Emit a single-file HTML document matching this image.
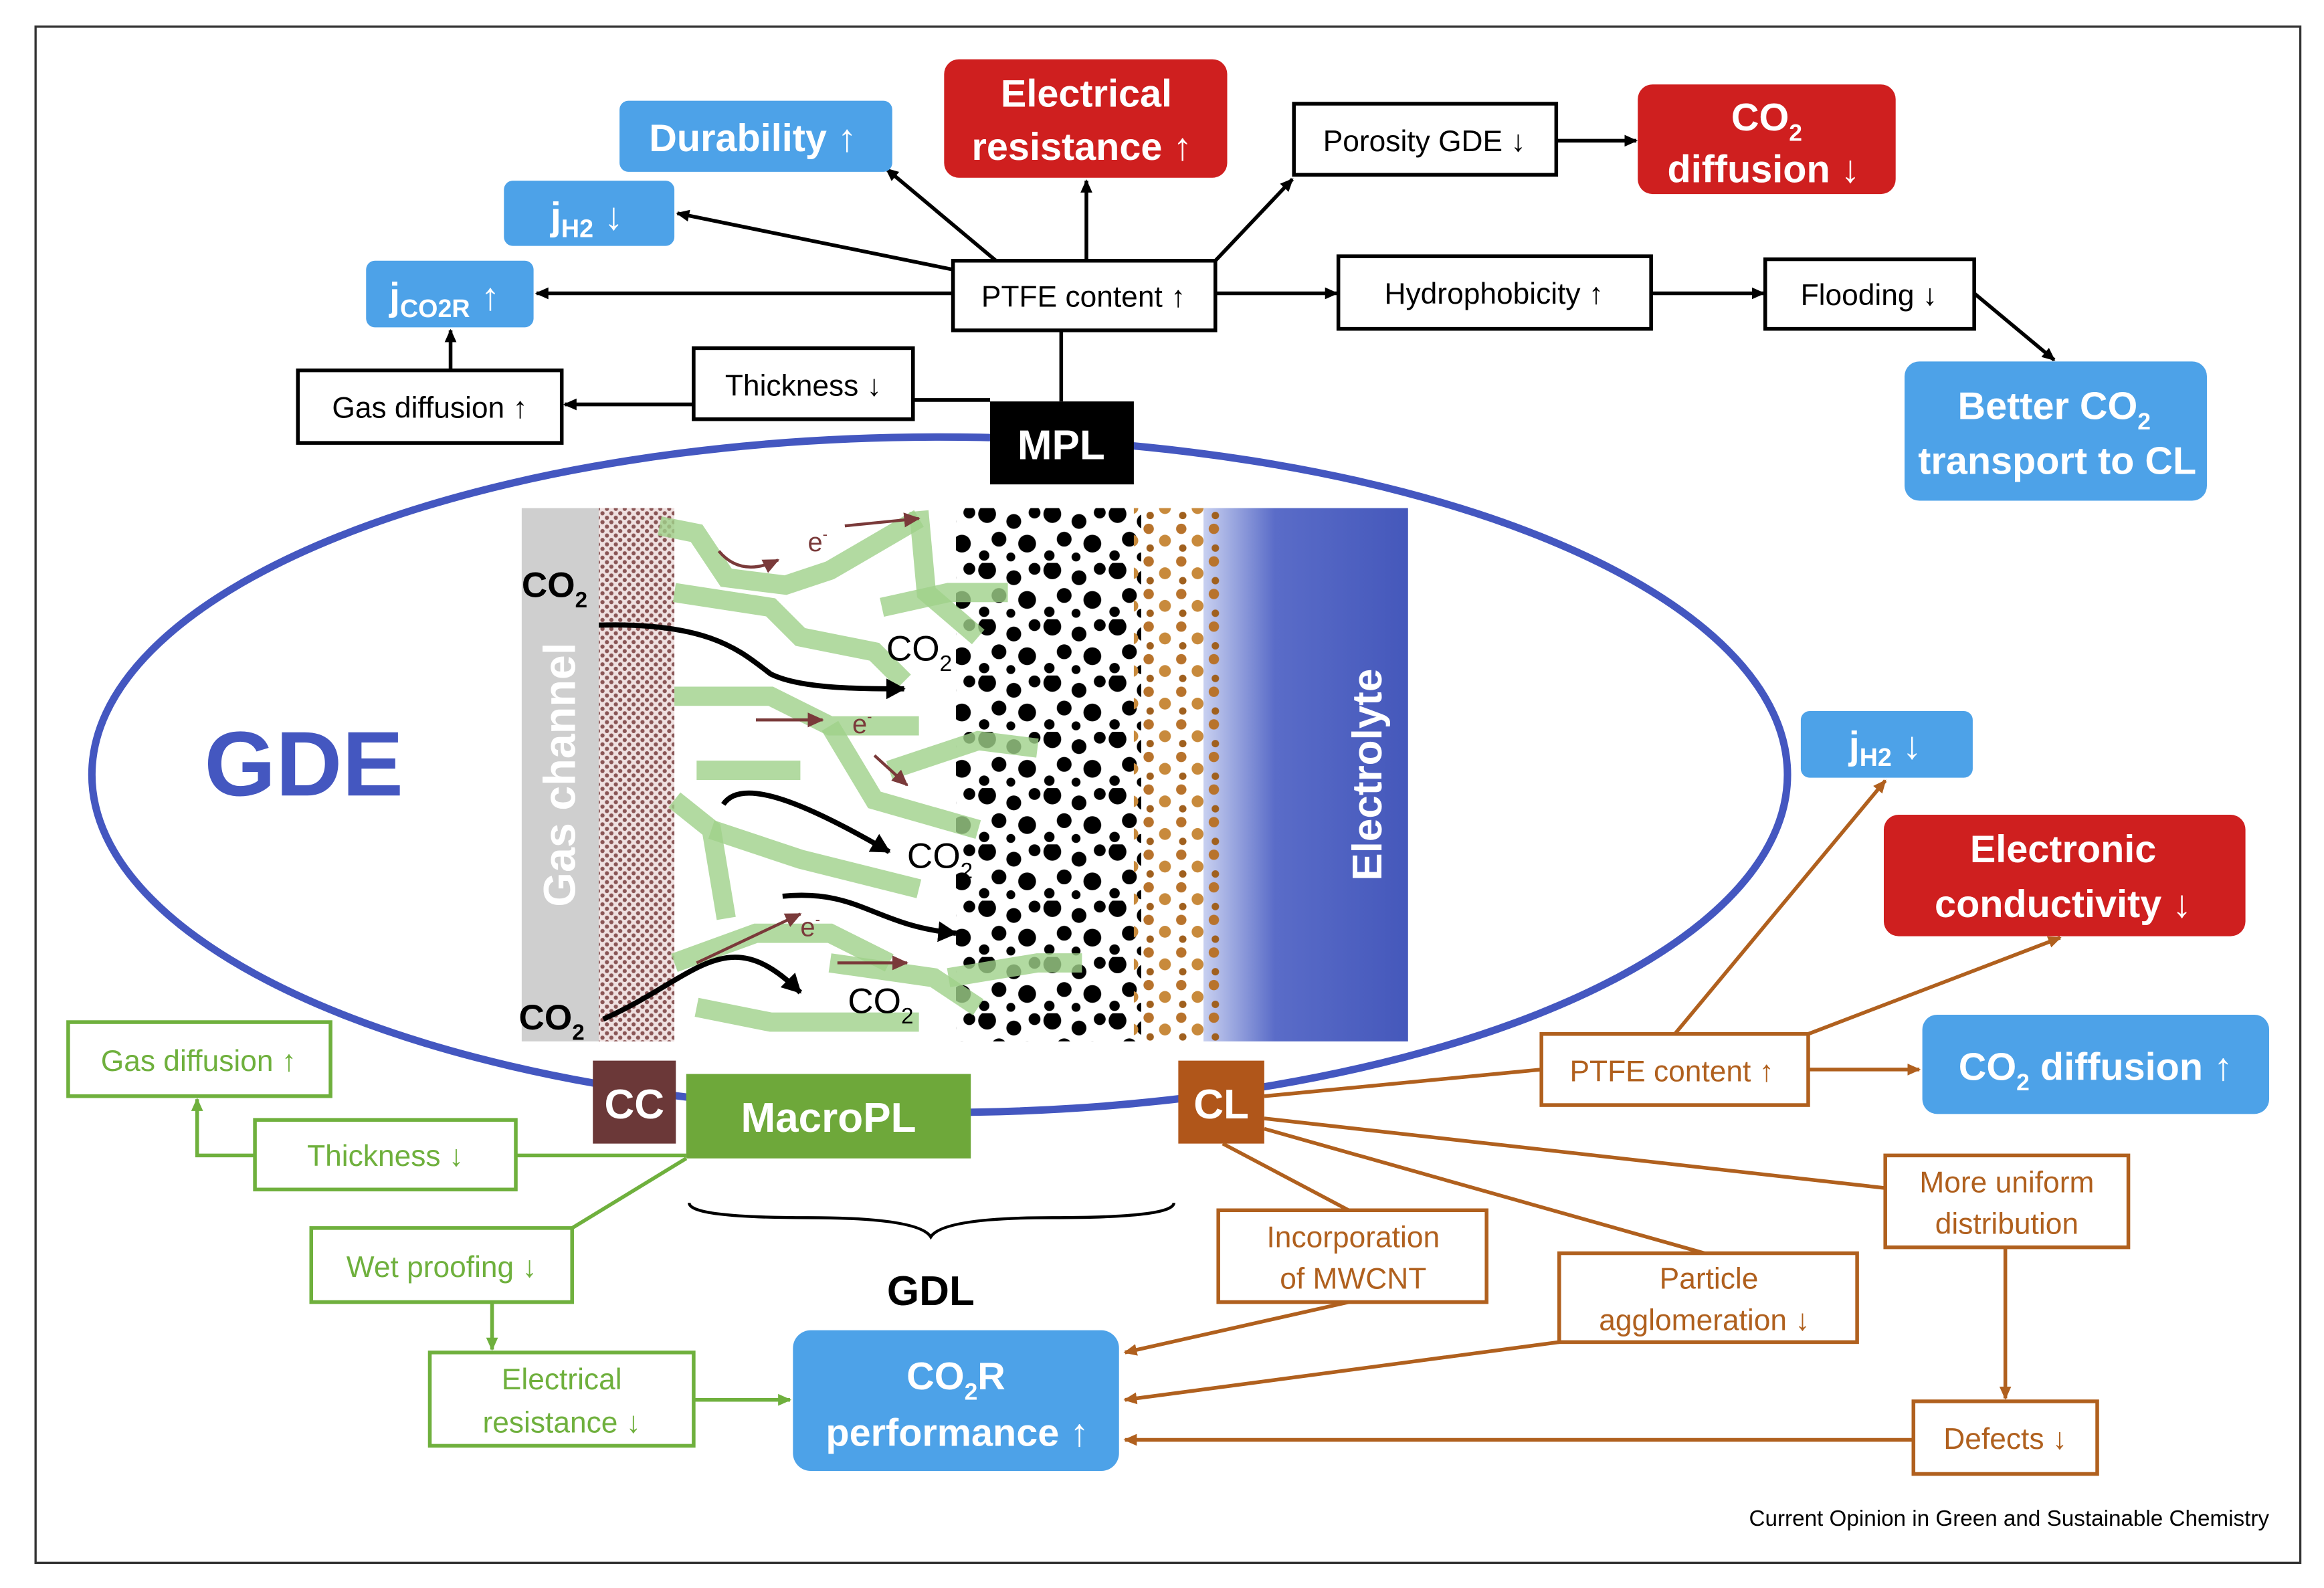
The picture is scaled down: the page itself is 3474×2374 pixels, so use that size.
<!DOCTYPE html>
<html><head><meta charset="utf-8"><style>
html,body{margin:0;padding:0;background:#fff;}
svg{display:block;}
text{font-family:"Liberation Sans Narrow","Liberation Sans",sans-serif;}
</style></head><body>
<svg width="3474" height="2374" viewBox="0 0 1568 1072" preserveAspectRatio="none" xmlns="http://www.w3.org/2000/svg">
<defs>
<marker id="ab" markerWidth="10" markerHeight="10" refX="8" refY="5" orient="auto" markerUnits="userSpaceOnUse"><path d="M0,1 L9,5 L0,9 z" fill="#000"/></marker>
<marker id="ao" markerWidth="10" markerHeight="10" refX="8" refY="5" orient="auto" markerUnits="userSpaceOnUse"><path d="M0,1 L9,5 L0,9 z" fill="#b0601e"/></marker>
<marker id="ag" markerWidth="10" markerHeight="10" refX="8" refY="5" orient="auto" markerUnits="userSpaceOnUse"><path d="M0,1 L9,5 L0,9 z" fill="#6fb03d"/></marker>
<marker id="ak" markerWidth="14" markerHeight="14" refX="12" refY="7" orient="auto" markerUnits="userSpaceOnUse"><path d="M0,0 L13,7 L0,14 z" fill="#000"/></marker>
<marker id="ar" markerWidth="12" markerHeight="12" refX="10" refY="6" orient="auto" markerUnits="userSpaceOnUse"><path d="M0,1 L11,6 L0,11 z" fill="#7a3a3a"/></marker>
<pattern id="hatch" width="6" height="6" patternUnits="userSpaceOnUse"><rect width="6" height="6" fill="#efe0e0"/><circle cx="1.5" cy="1.5" r="1.4" fill="#8a5656"/><circle cx="4.5" cy="4.5" r="1.4" fill="#8a5656"/></pattern>
<pattern id="dots" width="44" height="38" patternUnits="userSpaceOnUse">
<circle cx="6" cy="5" r="6" fill="#000"/><circle cx="24" cy="10" r="5" fill="#000"/><circle cx="38" cy="4" r="4" fill="#000"/>
<circle cx="14" cy="22" r="5" fill="#000"/><circle cx="33" cy="25" r="6" fill="#000"/><circle cx="4" cy="33" r="3.5" fill="#000"/><circle cx="22" cy="34" r="3" fill="#000"/></pattern>
<pattern id="bdots" width="22" height="22" patternUnits="userSpaceOnUse">
<circle cx="5" cy="5" r="3.5" fill="#b8732c"/><circle cx="16" cy="13" r="4" fill="#c88a3c"/><circle cx="6" cy="18" r="2.5" fill="#a0601e"/></pattern>
<linearGradient id="el" x1="0" x2="1"><stop offset="0" stop-color="#c8d0f0"/><stop offset="0.35" stop-color="#5a6cc8"/><stop offset="1" stop-color="#4558bb"/></linearGradient>
</defs>
<rect x="0" y="0" width="1568" height="1072" fill="#fff"/>
<rect x="24" y="18" width="1528" height="1037" fill="none" stroke="#333" stroke-width="1.5"/>

<!-- ellipse -->
<ellipse cx="634" cy="523" rx="572" ry="228" fill="none" stroke="#4457c0" stroke-width="5"/>
<text x="205" y="537" font-size="62" font-weight="bold" fill="#4457c0" text-anchor="middle" style="font-family:'Liberation Sans',sans-serif">GDE</text>

<!-- picture -->
<rect x="352" y="343" width="52" height="360" fill="#cfcfcf"/>
<rect x="404" y="343" width="51" height="360" fill="url(#hatch)"/>
<text transform="translate(388,523) rotate(-90)" font-size="30" font-weight="bold" fill="#fff" text-anchor="middle" style="font-family:'Liberation Sans',sans-serif">Gas channel</text>
<rect x="812" y="343" width="138" height="360" fill="url(#el)"/>
<text transform="translate(932,523) rotate(-90)" font-size="28" font-weight="bold" fill="#fff" text-anchor="middle" style="font-family:'Liberation Sans',sans-serif">Electrolyte</text>
<rect x="645" y="343" width="125" height="360" fill="url(#dots)"/>
<rect x="765" y="343" width="60" height="360" fill="url(#bdots)"/>
<g fill="none" stroke="#9fd18a" stroke-width="13" stroke-opacity="0.8" stroke-linecap="butt">
<path d="M445,355 L470,360 L490,390 L530,395 L560,385 L620,350"/>
<path d="M620,345 L625,400 L660,430"/>
<path d="M455,400 L520,410 L540,430 L590,440 L610,460"/>
<path d="M595,410 L640,400 L680,400"/>
<path d="M455,470 L520,470 L560,490 L620,490"/>
<path d="M560,490 L590,540 L660,560"/>
<path d="M470,520 L540,520"/>
<path d="M600,520 L660,500 L700,505"/>
<path d="M455,540 L480,560 L490,620"/>
<path d="M480,560 L540,580 L620,600"/>
<path d="M455,650 L510,630 L560,630 L600,650"/>
<path d="M560,650 L630,660 L660,680"/>
<path d="M640,660 L700,650 L730,650"/>
<path d="M470,680 L520,690 L620,690"/>
</g>
<g fill="none" stroke="#7a3a3a" stroke-width="2">
<path d="M485,372 Q500,390 525,378" marker-end="url(#ar)"/>
<path d="M570,355 L620,350" marker-end="url(#ar)"/>
<path d="M510,486 L555,486" marker-end="url(#ar)"/>
<path d="M590,510 L612,530" marker-end="url(#ar)"/>
<path d="M470,650 L540,617" marker-end="url(#ar)"/>
<path d="M565,650 L612,650" marker-end="url(#ar)"/>
</g>
<g font-size="18" fill="#7a3a3a"><text x="545" y="372">e<tspan font-size="10" dy="-8">-</tspan></text><text x="575" y="495">e<tspan font-size="10" dy="-8">-</tspan></text><text x="540" y="632">e<tspan font-size="10" dy="-8">-</tspan></text></g>
<g fill="none" stroke="#000" stroke-width="3.5">
<path d="M404,422 C480,420 500,440 520,455 C540,465 580,465 610,465" marker-end="url(#ak)"/>
<path d="M488,543 C500,525 540,540 600,575" marker-end="url(#ak)"/>
<path d="M528,605 C580,600 590,625 645,630" marker-end="url(#ak)"/>
<path d="M407,688 C470,660 490,620 540,670" marker-end="url(#ak)"/>
</g>
<g font-size="24" fill="#000" font-weight="bold">
<text x="352" y="403">CO<tspan font-size="15" dy="7">2</tspan></text>
<text x="598" y="446" font-weight="normal">CO<tspan font-size="15" dy="7">2</tspan></text>
<text x="612" y="586" font-weight="normal">CO<tspan font-size="15" dy="7">2</tspan></text>
<text x="572" y="684" font-weight="normal">CO<tspan font-size="15" dy="7">2</tspan></text>
<text x="350" y="695">CO<tspan font-size="15" dy="7">2</tspan></text>
</g>

<!-- top black connectors -->
<g stroke="#000" stroke-width="2.5" fill="none">
<line x1="672" y1="176" x2="598" y2="114" marker-end="url(#ab)"/>
<line x1="643" y1="182" x2="457" y2="144" marker-end="url(#ab)"/>
<line x1="643" y1="198" x2="362" y2="198" marker-end="url(#ab)"/>
<line x1="733" y1="176" x2="733" y2="122" marker-end="url(#ab)"/>
<line x1="820" y1="176" x2="872" y2="121" marker-end="url(#ab)"/>
<line x1="1050" y1="95" x2="1104" y2="95" marker-end="url(#ab)"/>
<line x1="820" y1="198" x2="902" y2="198" marker-end="url(#ab)"/>
<line x1="1114" y1="198" x2="1190" y2="198" marker-end="url(#ab)"/>
<line x1="1332" y1="198" x2="1386" y2="243" marker-end="url(#ab)"/>
<line x1="716" y1="271" x2="716" y2="223"/>
<line x1="668" y1="270" x2="616" y2="270"/>
<line x1="468" y1="273" x2="381" y2="273" marker-end="url(#ab)"/>
<line x1="304" y1="250" x2="304" y2="223" marker-end="url(#ab)"/>
</g>

<!-- top boxes -->
<g font-size="26" font-weight="bold" fill="#fff" text-anchor="middle">
<rect x="418" y="68" width="184" height="48" rx="6" fill="#4da2e8"/><text x="508" y="102">Durability ↑</text>
<rect x="637" y="40" width="191" height="80" rx="10" fill="#cf1f1f"/><text x="733" y="72">Electrical</text><text x="730" y="108">resistance ↑</text>
<rect x="1105" y="57" width="174" height="74" rx="10" fill="#cf1f1f"/><text x="1192" y="88">CO<tspan font-size="16" dy="7">2</tspan></text><text x="1190" y="123">diffusion ↓</text>
<rect x="340" y="122" width="115" height="44" rx="6" fill="#4da2e8"/><text x="396" y="155">j<tspan font-size="17" dy="5">H2</tspan><tspan dy="-5"> ↓</tspan></text>
<rect x="247" y="176" width="113" height="45" rx="6" fill="#4da2e8"/><text x="300" y="209">j<tspan font-size="17" dy="5">CO2R</tspan><tspan dy="-5"> ↑</tspan></text>
<rect x="1285" y="244" width="204" height="94" rx="10" fill="#4da2e8"/><text x="1386" y="283">Better CO<tspan font-size="16" dy="7">2</tspan></text><text x="1388" y="320">transport to CL</text>
</g>
<g font-size="20" fill="#000" text-anchor="middle" stroke-width="2.5">
<rect x="873" y="70" width="177" height="48" fill="#fff" stroke="#000"/><text x="961" y="102">Porosity GDE ↓</text>
<rect x="643" y="176" width="177" height="47" fill="#fff" stroke="#000"/><text x="731" y="207">PTFE content ↑</text>
<rect x="903" y="173" width="211" height="49" fill="#fff" stroke="#000"/><text x="1008" y="205">Hydrophobicity ↑</text>
<rect x="1191" y="175" width="141" height="47" fill="#fff" stroke="#000"/><text x="1261" y="206">Flooding ↓</text>
<rect x="201" y="250" width="178" height="49" fill="#fff" stroke="#000"/><text x="290" y="282">Gas diffusion ↑</text>
<rect x="468" y="235" width="148" height="48" fill="#fff" stroke="#000"/><text x="542" y="267">Thickness ↓</text>
</g>
<rect x="668" y="271" width="97" height="56" fill="#000"/>
<text x="716" y="310" font-size="28" font-weight="bold" fill="#fff" text-anchor="middle">MPL</text>

<!-- bottom layer labels -->
<rect x="400" y="716" width="56" height="56" fill="#6b3838"/><text x="428" y="755" font-size="28" font-weight="bold" fill="#fff" text-anchor="middle">CC</text>
<rect x="463" y="725" width="192" height="57" fill="#6ea83a"/><text x="559" y="764" font-size="28" font-weight="bold" fill="#fff" text-anchor="middle">MacroPL</text>
<rect x="795" y="716" width="58" height="56" fill="#b0561a"/><text x="824" y="755" font-size="28" font-weight="bold" fill="#fff" text-anchor="middle">CL</text>
<path d="M465,812 Q465,822 545,822 Q620,822 628,835 Q636,822 710,822 Q792,822 792,812" fill="none" stroke="#000" stroke-width="2"/>
<text x="628" y="881" font-size="28" font-weight="bold" fill="#000" text-anchor="middle">GDL</text>

<!-- green -->
<g stroke="#6fb03d" stroke-width="2.5" fill="none">
<line x1="463" y1="780" x2="348" y2="780"/>
<polyline points="172,780 133,780 133,742" marker-end="url(#ag)"/>
<line x1="463" y1="782" x2="386" y2="829"/>
<line x1="332" y1="879" x2="332" y2="911" marker-end="url(#ag)"/>
<line x1="468" y1="945" x2="533" y2="945" marker-end="url(#ag)"/>
</g>
<g font-size="20" fill="#6fb03d" text-anchor="middle" stroke-width="2.5">
<rect x="46" y="690" width="177" height="50" fill="#fff" stroke="#6fb03d"/><text x="134" y="723">Gas diffusion ↑</text>
<rect x="172" y="756" width="176" height="47" fill="#fff" stroke="#6fb03d"/><text x="260" y="787">Thickness ↓</text>
<rect x="210" y="829" width="176" height="50" fill="#fff" stroke="#6fb03d"/><text x="298" y="862">Wet proofing ↓</text>
<rect x="290" y="913" width="178" height="63" fill="#fff" stroke="#6fb03d"/><text x="379" y="938">Electrical</text><text x="379" y="967">resistance ↓</text>
</g>

<!-- orange -->
<g stroke="#b0601e" stroke-width="2.5" fill="none">
<line x1="853" y1="740" x2="1040" y2="722"/>
<line x1="1130" y1="698" x2="1272" y2="527" marker-end="url(#ao)"/>
<line x1="1220" y1="698" x2="1390" y2="633" marker-end="url(#ao)"/>
<line x1="1220" y1="722" x2="1295" y2="722" marker-end="url(#ao)"/>
<line x1="853" y1="755" x2="1272" y2="802"/>
<line x1="853" y1="762" x2="1150" y2="846"/>
<line x1="825" y1="772" x2="910" y2="817"/>
<line x1="910" y1="879" x2="759" y2="913" marker-end="url(#ao)"/>
<line x1="1052" y1="906" x2="759" y2="945" marker-end="url(#ao)"/>
<line x1="1353" y1="842" x2="1353" y2="944" marker-end="url(#ao)"/>
<line x1="1291" y1="972" x2="759" y2="972" marker-end="url(#ao)"/>
</g>
<g font-size="20" fill="#b0601e" text-anchor="middle" stroke-width="2.5">
<rect x="1040" y="698" width="180" height="48" fill="#fff" stroke="#b0601e"/><text x="1128" y="730">PTFE content ↑</text>
<rect x="822" y="817" width="181" height="62" fill="#fff" stroke="#b0601e"/><text x="913" y="842">Incorporation</text><text x="913" y="870">of MWCNT</text>
<rect x="1052" y="846" width="201" height="60" fill="#fff" stroke="#b0601e"/><text x="1153" y="870">Particle</text><text x="1150" y="898">agglomeration ↓</text>
<rect x="1272" y="780" width="164" height="62" fill="#fff" stroke="#b0601e"/><text x="1354" y="805">More uniform</text><text x="1354" y="833">distribution</text>
<rect x="1291" y="946" width="124" height="49" fill="#fff" stroke="#b0601e"/><text x="1353" y="978">Defects ↓</text>
</g>
<g font-size="26" font-weight="bold" fill="#fff" text-anchor="middle">
<rect x="1215" y="480" width="116" height="45" rx="6" fill="#4da2e8"/><text x="1272" y="512">j<tspan font-size="17" dy="5">H2</tspan><tspan dy="-5"> ↓</tspan></text>
<rect x="1271" y="550" width="244" height="82" rx="10" fill="#cf1f1f"/><text x="1392" y="582">Electronic</text><text x="1392" y="619">conductivity ↓</text>
<rect x="1297" y="685" width="234" height="67" rx="10" fill="#4da2e8"/><text x="1414" y="729">CO<tspan font-size="16" dy="7">2</tspan><tspan dy="-7"> diffusion ↑</tspan></text>
<rect x="535" y="898" width="220" height="95" rx="12" fill="#4da2e8"/><text x="645" y="938">CO<tspan font-size="16" dy="7">2</tspan><tspan dy="-7">R</tspan></text><text x="646" y="976">performance ↑</text>
</g>
<text x="1531" y="1030" font-size="15" fill="#000" text-anchor="end" style="font-family:'Liberation Sans Narrow','Liberation Sans',sans-serif">Current Opinion in Green and Sustainable Chemistry</text>
</svg>
</body></html>
